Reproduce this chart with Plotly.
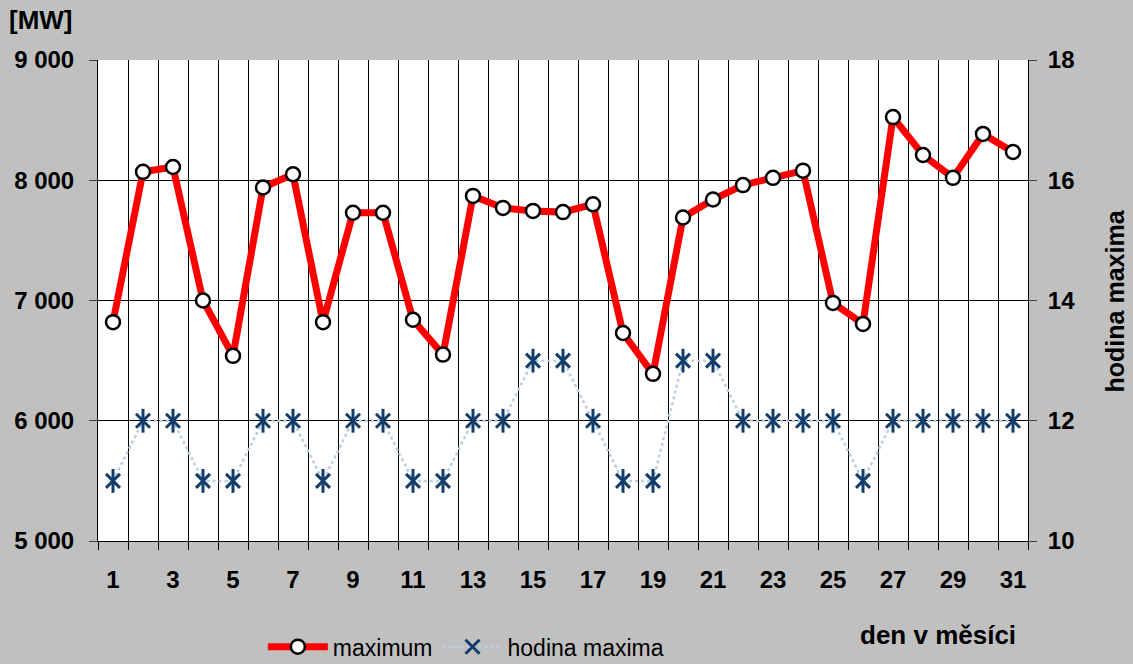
import plotly.graph_objects as go

days = list(range(1, 32))
maximum_mw = [6820, 8070, 8110, 7000, 6540, 7940, 8050, 6820, 7730, 7730,
              6840, 6550, 7870, 7770, 7745, 7735, 7800, 6730, 6390, 7690,
              7840, 7960, 8020, 8080, 6980, 6805, 8525, 8210, 8020, 8385, 8235]
hodina_maxima = [11, 12, 12, 11, 11, 12, 12, 11, 12, 12,
                 11, 11, 12, 12, 13, 13, 12, 11, 11, 13,
                 13, 12, 12, 12, 12, 11, 12, 12, 12, 12, 12]
x_tick_days = [d for d in days if d % 2 == 1]
x_tick_text = [str(d) for d in x_tick_days]

FONT = "Arial, Liberation Sans, sans-serif"
BG = "#C0C0C0"

fig = go.Figure()

fig.add_trace(go.Scatter(
    x=days, y=maximum_mw, name="maximum", mode="lines+markers",
    line=dict(color="#FF0000", width=7),
    marker=dict(symbol="circle", size=14, color="white",
                line=dict(color="black", width=2.5)),
    yaxis="y"))

fig.add_trace(go.Scatter(
    x=days, y=hodina_maxima, name="hodina maxima", mode="lines+markers",
    line=dict(color="#BCCDE0", width=2.5, dash="dot"),
    marker=dict(symbol="x-thin-open", size=14, color="#123D6A",
                line=dict(color="#123D6A", width=3)),
    yaxis="y2"))

fig.add_trace(go.Scatter(
    x=days, y=hodina_maxima, name="hodina maxima", mode="markers",
    showlegend=False,
    marker=dict(symbol="line-ns-open", size=17, color="#123D6A",
                line=dict(color="#123D6A", width=3)),
    yaxis="y2"))

fig.update_layout(
    width=1133, height=664,
    paper_bgcolor=BG, plot_bgcolor="white",
    margin=dict(l=98, r=105, t=60, b=123),
    separators=", ",
    font=dict(family=FONT, color="black"),
    showlegend=True,
    legend=dict(orientation="h", xref="container", yref="container",
                x=0.232, xanchor="left", y=0.026, yanchor="middle",
                bgcolor="rgba(0,0,0,0)", font=dict(size=23, family=FONT, color="black"),
                itemwidth=60, tracegroupgap=0),
    xaxis=dict(range=[0.5, 31.5], tickmode="array", tickvals=x_tick_days, ticktext=x_tick_text,
               ticks="", ticklabelstandoff=17, showgrid=False, zeroline=False,
               showline=True, linecolor="black", linewidth=1,
               tickfont=dict(size=24, family=FONT, color="black", weight="bold"),
               minor=dict(tickmode="linear", tick0=0.5, dtick=1, showgrid=True,
                          gridcolor="black", gridwidth=1, ticks="outside",
                          ticklen=8, tickcolor="black")),
    yaxis=dict(range=[5000, 9000], tickmode="linear", tick0=5000, dtick=1000,
               tickformat=",d", showgrid=True, gridcolor="black", gridwidth=1,
               zeroline=False, ticks="outside", ticklen=8, tickcolor="#404040",
               ticklabelstandoff=10,
               showline=True, linecolor="black", linewidth=1,
               tickfont=dict(size=24, family=FONT, color="black", weight="bold")),
    yaxis2=dict(range=[10, 18], tickmode="linear", tick0=10, dtick=2,
                overlaying="y", side="right", showgrid=False, zeroline=False,
                ticks="outside", ticklen=8, tickcolor="#404040",
                ticklabelstandoff=6,
                showline=True, linecolor="black", linewidth=1,
                tickfont=dict(size=24, family=FONT, color="black", weight="bold")),
    annotations=[
        dict(text="<b>[MW]</b>", xref="paper", yref="paper", x=-0.098, y=1.083,
             xanchor="left", yanchor="middle", showarrow=False,
             font=dict(size=26, family=FONT, color="black")),
        dict(text="<b>den v měsíci</b>", xref="paper", yref="paper", x=0.903, y=-0.195,
             xanchor="center", yanchor="middle", showarrow=False,
             font=dict(size=26, family=FONT, color="black")),
        dict(text="<b>hodina maxima</b>", xref="paper", yref="paper", x=1.0935, y=0.50,
             xanchor="center", yanchor="middle", showarrow=False, textangle=-90,
             font=dict(size=25, family=FONT, color="black")),
    ],
)

fig.write_html("out.html", config={"displayModeBar": False},
               post_script="document.body.style.margin='0px';")
